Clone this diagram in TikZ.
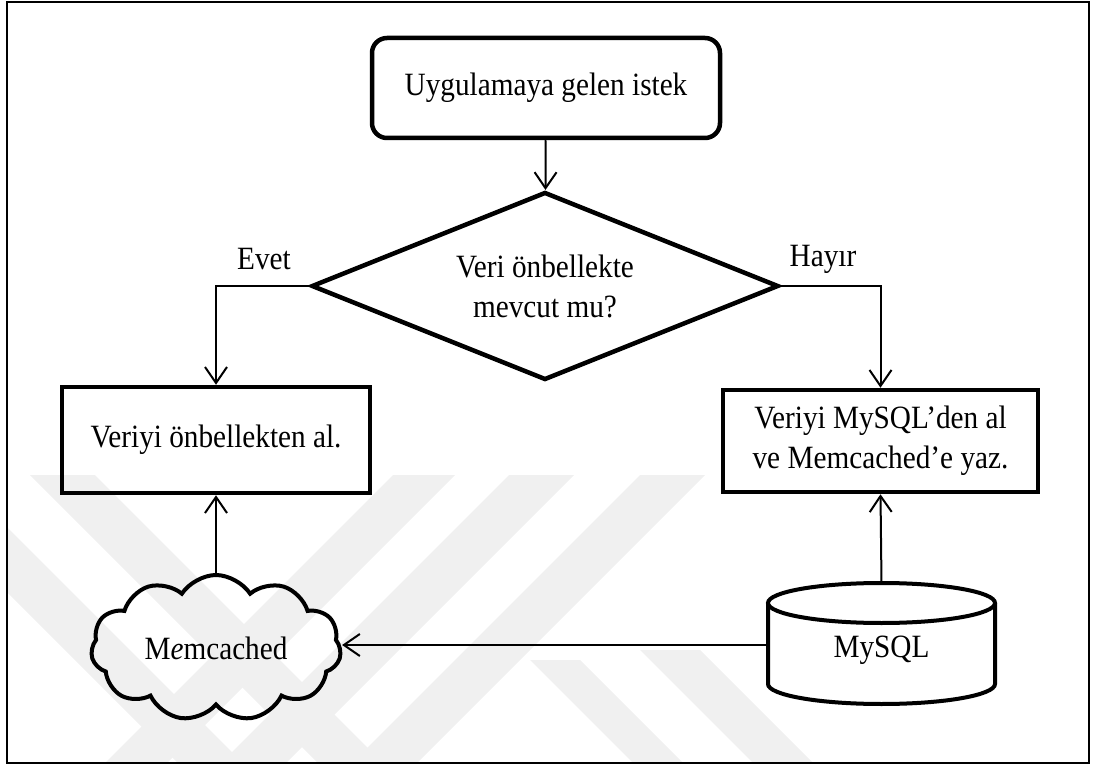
\documentclass[tikz,border=0pt]{standalone}
\usepackage{fontspec}
\setmainfont[FakeStretch=0.9]{Liberation Serif}
\usetikzlibrary{shapes.geometric,shapes.symbols,arrows.meta}
\tikzset{
  txt/.style={font=\fontsize{32.5}{40}\selectfont, align=center, inner sep=0pt},
  boxnode/.style={txt, draw, line width=4.5pt, rectangle},
  startnode/.style={boxnode, rounded corners=15pt},
  decnode/.style={txt, draw, line width=4.5pt, diamond, aspect=2.5},
  cloudnode/.style={txt, draw, line width=4pt, cloud, cloud puffs=11, cloud puff arc=115, cloud ignores aspect},
  conn/.style={line width=2pt, -{Straight Barb[length=16pt,width=22pt,line width=2pt]}},
  cylline/.style={line width=4pt},
  wm/.style={fill=black!6, draw=none},
  lbl/.style={txt}
}
\begin{document}
\begin{tikzpicture}[x=1pt,y=-1pt]
\useasboundingbox (0,0) rectangle (1096,765);
% watermark
\begin{scope}
\clip (8,475) rectangle (1088,762);
\fill[wm] (105,763) -- (167,763) -- (455,475) -- (393,475) -- cycle;
\fill[wm] (221,763) -- (286,763) -- (574,475) -- (509,475) -- cycle;
\fill[wm] (352,763) -- (417,763) -- (705,475) -- (640,475) -- cycle;
\fill[wm] (30,475) -- (95,475) -- (383,763) -- (318,763) -- cycle;
\fill[wm] (-110,475) -- (-45,475) -- (243,763) -- (178,763) -- cycle;
\fill[wm] (640,650) -- (700,650) -- (813,763) -- (753,763) -- cycle;
\fill[wm] (530,660) -- (580,660) -- (683,763) -- (633,763) -- cycle;
\end{scope}
% frame
\draw[line width=2.2pt] (7,2) rectangle (1089,763);
% cylinder body
\draw[cylline, fill=white] (768,603) -- (768,684) arc[start angle=180, end angle=0, x radius=113.5, y radius=20] -- (995,603);
\draw[cylline, fill=white] (881.5,603) ellipse[x radius=113.5, y radius=20];
% nodes
\node[startnode, minimum width=348pt, minimum height=100pt] (start) at (546,88) {Uygulamaya gelen istek};
\node[decnode, minimum width=467pt, minimum height=188pt] (dec) at (545,286) {Veri önbellekte\\mevcut mu?};
\node[boxnode, minimum width=308pt, minimum height=106pt] (lbox) at (216,440) {Veriyi önbellekten al.};
\node[boxnode, minimum width=315pt, minimum height=102pt] (rbox) at (880.5,441) {Veriyi MySQL’den al\\ve Memcached’e yaz.};
\node[cloudnode, minimum width=250pt, minimum height=146pt] (mem) at (216,648) {M\textit{e}mcached};
\node[txt, minimum width=227pt, minimum height=134pt] (mysql) at (881.5,650) {MySQL};
\coordinate (mysqlw) at ([yshift=5pt]mysql.west);
% labels
\node[lbl] (evet) at (264,259) {Evet};
\node[lbl] (hayir) at (823,259) {Hayır};
% connectors
\draw[conn] (start) -- (dec);
\draw[conn] (dec.west) -| (lbox.north);
\draw[conn] (dec.east) -| (rbox.north);
\draw[conn] (mem.north) -- (lbox.south);
\draw[conn] (mysql.north) -- (rbox.south);
\draw[conn] (mysqlw) -- (mysqlw -| mem.east);
\end{tikzpicture}
\end{document}
